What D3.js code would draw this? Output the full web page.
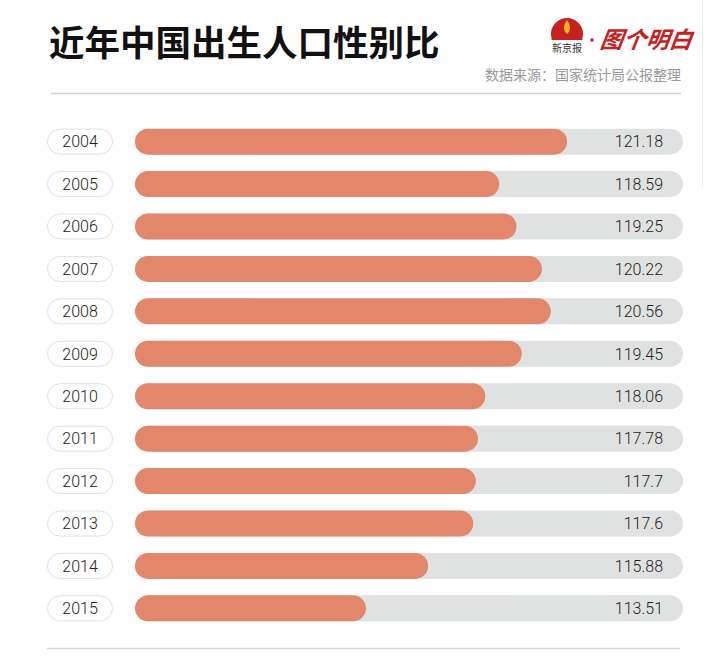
<!DOCTYPE html>
<html>
<head>
<meta charset="utf-8">
<script src="https://cdn.jsdelivr.net/npm/d3@7"></script>
<style>
  body { margin: 0; background: #fff; }
  svg { display: block; }
</style>
</head>
<body>
<div id="chart"></div>
<script>
// data
var years = ["2004", "2005", "2006", "2007", "2008", "2009", "2010", "2011", "2012", "2013", "2014", "2015"];
var ratios = [121.18, 118.59, 119.25, 120.22, 120.56, 119.45, 118.06, 117.78, 117.7, 117.6, 115.88, 113.51];
var ratioLabels = ["121.18", "118.59", "119.25", "120.22", "120.56", "119.45", "118.06", "117.78", "117.7", "117.6", "115.88", "113.51"];

var width = 709;
var height = 664;

var svg = d3.select("#chart")
  .append("svg")
  .attr("width", width)
  .attr("height", height);

// faint frame edge on the right
svg.append("line")
  .attr("x1", 702.5).attr("x2", 702.5)
  .attr("y1", 0).attr("y2", 188)
  .attr("stroke", "#ececec");

// Title
svg.append("text")
  .attr("x", 49)
  .attr("y", 56)
  .attr("font-family", "Noto Sans CJK SC")
  .attr("font-weight", "bold")
  .attr("font-size", 35.5)
  .attr("fill", "#111")
  .text("近年中国出生人口性别比");

// Logo (approximation)
var logo = svg.append("g").attr("transform", "translate(567,35)");
logo.append("circle").attr("r", 16).attr("cy", -1).attr("fill", "#c8201e");
logo.append("rect").attr("x", -18).attr("y", 5).attr("width", 36).attr("height", 12).attr("fill", "#fff");
logo.append("path")
  .attr("d", "M-16,5 L-12,1 L-9,3 L-6,-2 L-3,0 L0,-5 L3,0 L6,-2 L9,3 L12,1 L16,5 Z")
  .attr("fill", "#c8201e");
logo.append("path")
  .attr("d", "M0,-15 C4,-10 4,-4 0,-1 C-4,-4 -4,-10 0,-15 Z")
  .attr("fill", "#f4b321");
logo.append("text")
  .attr("y", 17)
  .attr("text-anchor", "middle")
  .attr("font-family", "Noto Sans CJK SC")
  .attr("font-size", 10)
  .attr("fill", "#333")
  .text("新京报");
svg.append("circle").attr("cx", 592).attr("cy", 40).attr("r", 1.8).attr("fill", "#c8201e");
svg.append("text")
  .attr("x", 600)
  .attr("y", 48)
  .attr("font-family", "Noto Sans CJK SC")
  .attr("font-style", "italic")
  .attr("font-weight", "bold")
  .attr("font-size", 23)
  .attr("fill", "#c8201e")
  .attr("transform", "skewX(-8)")
  .attr("dx", 6)
  .text("图个明白");

// Source
svg.append("text")
  .attr("x", 681)
  .attr("y", 80)
  .attr("text-anchor", "end")
  .attr("font-family", "Noto Sans CJK SC")
  .attr("font-size", 14)
  .attr("fill", "#9a9a9a")
  .text("数据来源：国家统计局公报整理");

// divider lines
svg.append("line")
  .attr("x1", 51).attr("x2", 681)
  .attr("y1", 93.5).attr("y2", 93.5)
  .attr("stroke", "#cfcfcf").attr("stroke-width", 1.5);
svg.append("line")
  .attr("x1", 47).attr("x2", 680)
  .attr("y1", 648.5).attr("y2", 648.5)
  .attr("stroke", "#d6d6d6").attr("stroke-width", 1.5);

// Scales
var yScale = d3.scaleBand()
  .domain(years)
  .range([120, 630])
  .paddingInner(0.38)
  .paddingOuter(0.2);

var xScale = d3.scaleLinear()
  .domain([104.7, 125.6])
  .range([135, 683]);

var barH = 26;
var rows = svg.selectAll("g.row")
  .data(years)
  .enter()
  .append("g")
  .attr("class", "row")
  .attr("transform", function(d) {
    return "translate(0," + (yScale(d) + yScale.bandwidth() / 2) + ")";
  });

// year pills
rows.append("rect")
  .attr("x", 47.5)
  .attr("y", -barH / 2 + 0.5)
  .attr("width", 65)
  .attr("height", barH - 1)
  .attr("rx", 12.5)
  .attr("fill", "#fff")
  .attr("stroke", "#e2e2e2");

rows.append("text")
  .attr("x", 80)
  .attr("dy", "0.36em")
  .attr("text-anchor", "middle")
  .attr("font-family", "Roboto, Liberation Sans, sans-serif")
  .attr("font-weight", 300)
  .attr("font-size", 16)
  .attr("fill", "#222")
  .text(function(d) { return d; });

// background track
rows.append("rect")
  .attr("x", xScale.range()[0])
  .attr("y", -barH / 2)
  .attr("width", xScale.range()[1] - xScale.range()[0])
  .attr("height", barH)
  .attr("rx", barH / 2)
  .attr("fill", "#e0e2e1");

// value bar
rows.append("rect")
  .attr("x", xScale.range()[0])
  .attr("y", -barH / 2)
  .attr("width", function(d, i) { return xScale(ratios[i]) - xScale.range()[0]; })
  .attr("height", barH)
  .attr("rx", barH / 2)
  .attr("fill", "#e2876b");

rows.append("text")
  .attr("x", 663)
  .attr("dy", "0.36em")
  .attr("text-anchor", "end")
  .attr("font-family", "Roboto, Liberation Sans, sans-serif")
  .attr("font-weight", 300)
  .attr("font-size", 16)
  .attr("fill", "#222")
  .text(function(d, i) { return ratioLabels[i]; });
</script>
</body>
</html>
